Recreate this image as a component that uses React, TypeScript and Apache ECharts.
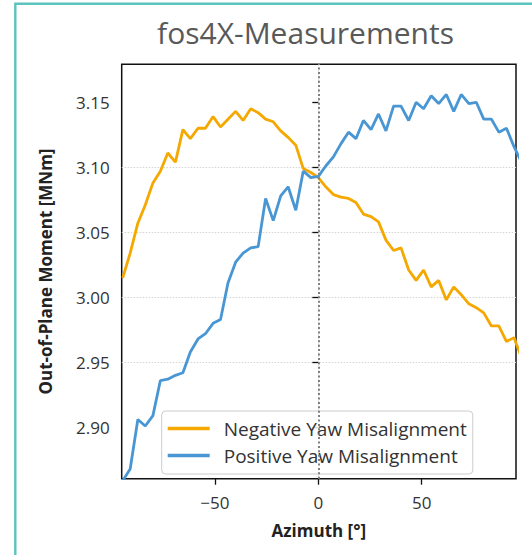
import React, { useEffect, useRef } from "react";
import * as echarts from "echarts";

const azimuth = [
  -94.6, -91.0, -87.3, -83.7, -80.0, -76.4, -72.8, -69.1, -65.5, -61.9,
  -58.2, -54.6, -50.9, -47.3, -43.7, -40.0, -36.4, -32.7, -29.1, -25.5,
  -21.8, -18.2, -14.6, -10.9, -7.3, -3.6, 0.0, 3.6, 7.3, 10.9,
  14.6, 18.2, 21.8, 25.5, 29.1, 32.7, 36.4, 40.0, 43.7, 47.3,
  50.9, 54.6, 58.2, 61.9, 65.5, 69.1, 72.8, 76.4, 80.0, 83.7,
  87.3, 91.0, 94.6, 98.2,
];

const negativeYaw = [
  3.015, 3.034, 3.057, 3.071, 3.088, 3.097, 3.111, 3.104, 3.129, 3.122,
  3.130, 3.130, 3.139, 3.131, 3.137, 3.143, 3.136, 3.145, 3.142, 3.137,
  3.135, 3.128, 3.123, 3.117, 3.099, 3.096, 3.092, 3.085, 3.079, 3.077,
  3.076, 3.073, 3.064, 3.062, 3.058, 3.044, 3.036, 3.038, 3.021, 3.013,
  3.021, 3.008, 3.013, 2.998, 3.008, 3.002, 2.995, 2.992, 2.988, 2.978,
  2.978, 2.966, 2.969, 2.954,
];

const positiveYaw = [
  2.859, 2.868, 2.906, 2.901, 2.909, 2.936, 2.937, 2.940, 2.942, 2.958,
  2.968, 2.972, 2.980, 2.983, 3.011, 3.027, 3.034, 3.038, 3.039, 3.076,
  3.059, 3.078, 3.085, 3.067, 3.097, 3.092, 3.093, 3.101, 3.108, 3.118,
  3.127, 3.122, 3.136, 3.129, 3.141, 3.128, 3.147, 3.147, 3.136, 3.150,
  3.145, 3.155, 3.149, 3.156, 3.143, 3.156, 3.149, 3.150, 3.137, 3.137,
  3.127, 3.130, 3.116, 3.104,
];

const xTicks = [-50, 0, 50];
const yTicks = [2.9, 2.95, 3.0, 3.05, 3.1, 3.15];

const FONT = "'Open Sans', 'Noto Sans', sans-serif";

export default function App() {
  const ref = useRef<HTMLDivElement>(null);
  useEffect(() => {
    if (!ref.current) return;
    const chart = echarts.init(ref.current, undefined, { renderer: "svg" });
    const pair = (ys: number[]) => azimuth.map((x, i) => [x, ys[i]]);
    chart.setOption({
      animation: false,
      backgroundColor: "#ffffff",
      title: {
        text: "fos4X-Measurements",
        left: 300.5,
        top: 12,
        textAlign: "center",
        textStyle: { fontFamily: FONT, fontSize: 30, fontWeight: "normal", color: "#595959" },
      },
      graphic: [
        {
          type: "rect",
          shape: { x: 15.3, y: 3.7, width: 700, height: 700 },
          style: { fill: "none", stroke: "#5bc4bd", lineWidth: 2.4 },
          silent: true,
        },
      ],
      grid: {
        left: 121.7,
        top: 64.3,
        right: 16,
        bottom: 76.3,
        show: true,
        borderColor: "#111",
        borderWidth: 1.5,
        backgroundColor: "transparent",
      },
      legend: {
        orient: "vertical",
        left: 161.7,
        top: 411,
        padding: [8, 6, 9, 6],
        icon: "rect",
        itemWidth: 42,
        itemHeight: 3.5,
        itemGap: 8,
        backgroundColor: "rgba(255,255,255,0.85)",
        borderColor: "#cccccc",
        borderWidth: 1,
        borderRadius: 4,
        textStyle: { fontFamily: FONT, fontSize: 19, color: "#333", padding: [0, 0, 0, 9] },
        data: ["Negative Yaw Misalignment", "Positive Yaw Misalignment"],
      },
      xAxis: {
        type: "value",
        min: -95.1,
        max: 95.6,
        minInterval: 50,
        maxInterval: 50,
        name: "Azimuth [°]",
        nameLocation: "middle",
        nameGap: 43,
        nameTextStyle: { fontFamily: FONT, fontSize: 17, fontWeight: "bold", color: "#222" },
        axisLine: { show: false },
        axisTick: { show: true, length: 6, lineStyle: { color: "#111", width: 1.3 }, customValues: xTicks },
        axisLabel: {
          fontFamily: FONT,
          fontSize: 17,
          color: "#333",
          margin: 15,
          customValues: xTicks,
          formatter: (v: number) => (v < 0 ? "\u2212" + Math.abs(v) : String(v)),
        },
        splitLine: {
          show: true,
          showMinLine: false,
          showMaxLine: false,
          lineStyle: { color: "#d4d4d4", type: [1.5, 1.5], width: 1 },
        },
      },
      yAxis: {
        type: "value",
        min: 2.8605,
        max: 3.1792,
        minInterval: 0.05,
        maxInterval: 0.05,
        name: "Out-of-Plane Moment [MNm]",
        nameLocation: "middle",
        nameGap: 68,
        nameTextStyle: { fontFamily: FONT, fontSize: 17, fontWeight: "bold", color: "#222" },
        axisLine: { show: false },
        axisTick: { show: true, length: 6, lineStyle: { color: "#111", width: 1.3 }, customValues: yTicks },
        axisLabel: {
          fontFamily: FONT,
          fontSize: 17,
          color: "#333",
          margin: 12,
          customValues: yTicks,
          formatter: (v: number) => v.toFixed(2),
        },
        splitLine: {
          show: true,
          showMinLine: false,
          showMaxLine: false,
          lineStyle: { color: "#d4d4d4", type: [1.5, 1.5], width: 1 },
        },
      },
      series: [
        {
          name: "Negative Yaw Misalignment",
          type: "line",
          data: pair(negativeYaw),
          symbol: "none",
          showSymbol: false,
          clip: true,
          lineStyle: { color: "#f4a800", width: 2.8 },
          itemStyle: { color: "#f4a800" },
          markLine: {
            silent: true,
            symbol: ["none", "none"],
            label: { show: false },
            lineStyle: { color: "#808080", type: [2, 2.4], width: 2 },
            data: [{ xAxis: 0 }],
          },
          z: 2,
        },
        {
          name: "Positive Yaw Misalignment",
          type: "line",
          data: pair(positiveYaw),
          symbol: "none",
          showSymbol: false,
          clip: true,
          lineStyle: { color: "#4896d4", width: 2.8 },
          itemStyle: { color: "#4896d4" },
          z: 3,
        },
      ],
    });
    return () => chart.dispose();
  }, []);
  return <div ref={ref} style={{ width: 532, height: 555, position: "absolute", left: 0, top: 0 }} />;
}
